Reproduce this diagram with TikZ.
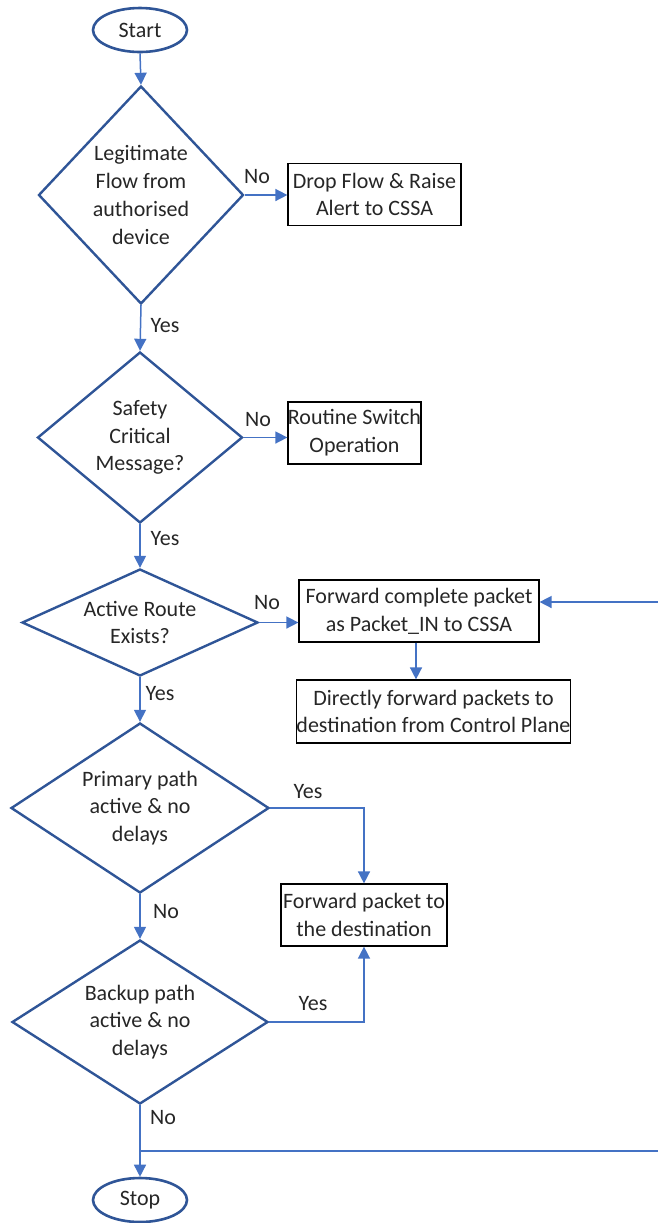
\documentclass[tikz,border=0pt]{standalone}
\usepackage{fontspec}
\setmainfont{Carlito}
\usetikzlibrary{shapes.geometric,arrows.meta}
\definecolor{dblue}{HTML}{2F5597}
\definecolor{ablue}{HTML}{4472C4}
\begin{document}
\begin{tikzpicture}[x=0.5pt,y=-0.5pt,
  every node/.style={font=\fontsize{11}{13.9}\selectfont, text=black!85},
  term/.style={ellipse, draw=dblue, line width=1.3pt, minimum width=47pt, minimum height=22pt, inner sep=0pt},
  dec/.style={diamond, draw=dblue, line width=1.2pt, inner sep=0pt},
  dtext/.style={inner sep=0pt, align=center},
  proc/.style={rectangle, draw=black, line width=0.6pt, inner sep=0pt, align=center},
  arr/.style={draw=ablue, line width=0.75pt, -{Triangle[length=6pt,width=6pt]}},
  ln/.style={draw=ablue, line width=0.75pt},
  lbl/.style={inner sep=0pt}]
\useasboundingbox (0,0) rectangle (658,1223);
% terminals
\node[term] (start) at (140,30) {Start};
\node[term] (stop) at (140,1200) {Stop};
% decisions
\node[dec, minimum width=102.5pt, minimum height=109pt] (d1) at (141,195) {};
\node[dtext] (d1t) at (d1.center) {Legitimate\\Flow from\\authorised\\device};
\node[dec, minimum width=102.5pt, minimum height=85.5pt] (d2) at (140,437.5) {};
\node[dtext] (d2t) at (d2.center) {Safety\\Critical\\Message?};
\node[dec, minimum width=118pt, minimum height=53.5pt] (d3) at (140,622.5) {};
\node[dtext] (d3t) at (d3.center) {Active Route\\Exists?};
\node[dec, minimum width=129pt, minimum height=85pt] (d4) at (140,808) {};
\node[dtext] (d4t) at (d4.center) {Primary path\\active \& no\\delays};
\node[dec, minimum width=128pt, minimum height=82pt] (d5) at (140,1022) {};
\node[dtext] (d5t) at (d5.center) {Backup path\\active \& no\\delays};
% processes
\node[proc, minimum width=86.5pt, minimum height=31pt] (drop) at (374.5,194.5) {Drop Flow \& Raise\\Alert to CSSA};
\node[proc, minimum width=66.5pt, minimum height=31pt] (routine) at (354.5,433) {Routine Switch\\Operation};
\node[proc, minimum width=120pt, minimum height=31pt] (fcp) at (419,611) {Forward complete packet\\as Packet\_IN to CSSA};
\node[proc, minimum width=136.5pt, minimum height=31.5pt] (direct) at (433.5,711.5) {Directly forward packets to\\destination from Control Plane};
\node[proc, minimum width=83pt, minimum height=31pt] (fwd) at (364,915) {Forward packet to\\the destination};
% labels
\node[lbl] (l1) at (257,177) {No};
\node[lbl] (l2) at (165,326) {Yes};
\node[lbl] (l3) at (258,420) {No};
\node[lbl] (l4) at (165,539) {Yes};
\node[lbl] (l5) at (267,603) {No};
\node[lbl] (l6) at (160,694) {Yes};
\node[lbl] (l7) at (308,792) {Yes};
\node[lbl] (l8) at (166,912) {No};
\node[lbl] (l9) at (313,1004) {Yes};
\node[lbl] (l10) at (163,1118) {No};
% connectors
\draw[arr] (start.south) -- (d1.north);
\draw[arr] (d1.east) -- (d1.east -| drop.west);
\draw[arr] (d1.south) -- (d2.north);
\draw[arr] (d2.east) -- (d2.east -| routine.west);
\draw[arr] (d2.south) -- (d3.north);
\draw[arr] (d3.east) -- (d3.east -| fcp.west);
\draw[arr] ([xshift=-1.5pt]fcp.south) -- ([xshift=-1.5pt]fcp.south |- direct.north);
\draw[arr] (d3.south) -- (d4.north);
\draw[arr] (d4.east) -| (fwd.north);
\draw[arr] (d4.south) -- (d5.north);
\draw[arr] (d5.east) -| (fwd.south);
\draw[arr] (d5.south) -- (stop.north);
\coordinate (j) at (140,1151);
\coordinate (r1) at (661,1151);
\coordinate (r2) at (661,602);
\draw[ln] (j) -- (r1) -- (r2);
\draw[arr] (r2) -- (fcp.east |- r2);
\end{tikzpicture}
\end{document}
